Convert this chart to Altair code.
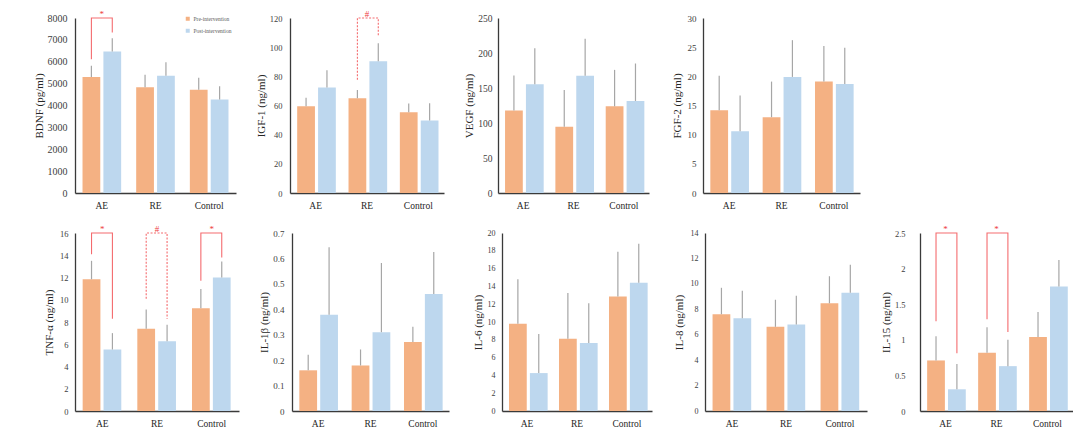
import altair as alt
import pandas as pd

GROUPS = ["AE", "RE", "Control"]
SERIES = ["Pre-intervention", "Post-intervention"]

BDNF_PRE = [5300, 4840, 4720]
BDNF_PRE_SD = [520, 570, 550]
BDNF_POST = [6470, 5360, 4280]
BDNF_POST_SD = [600, 615, 595]

IGF1_PRE = [59.5, 65.0, 55.4]
IGF1_PRE_SD = [5.8, 5.7, 6.0]
IGF1_POST = [72.3, 90.3, 49.7]
IGF1_POST_SD = [11.9, 12.4, 11.9]

VEGF_PRE = [117.7, 94.7, 123.8]
VEGF_PRE_SD = [50.2, 52.6, 52.1]
VEGF_POST = [155.3, 167.4, 131.5]
VEGF_POST_SD = [51.5, 53.0, 53.5]

FGF2_PRE = [14.2, 13.0, 19.1]
FGF2_PRE_SD = [5.9, 6.1, 6.1]
FGF2_POST = [10.6, 19.9, 18.7]
FGF2_POST_SD = [6.1, 6.3, 6.2]

TNF_PRE = [11.84, 7.39, 9.24]
TNF_PRE_SD = [1.66, 1.73, 1.73]
TNF_POST = [5.53, 6.28, 11.99]
TNF_POST_SD = [1.47, 1.47, 1.44]

IL1B_PRE = [0.160, 0.179, 0.271]
IL1B_PRE_SD = [0.061, 0.063, 0.060]
IL1B_POST = [0.379, 0.310, 0.460]
IL1B_POST_SD = [0.265, 0.272, 0.165]

IL6_PRE = [9.79, 8.11, 12.86]
IL6_PRE_SD = [5.0, 5.16, 5.04]
IL6_POST = [4.26, 7.63, 14.4]
IL6_POST_SD = [4.38, 4.47, 4.4]

IL8_PRE = [7.61, 6.62, 8.47]
IL8_PRE_SD = [2.08, 2.13, 2.13]
IL8_POST = [7.30, 6.81, 9.3]
IL8_POST_SD = [2.15, 2.25, 2.2]

IL15_PRE = [0.71, 0.818, 1.04]
IL15_PRE_SD = [0.34, 0.36, 0.35]
IL15_POST = [0.305, 0.63, 1.75]
IL15_POST_SD = [0.355, 0.37, 0.37]

# significance brackets: group, marker, line style, value where pre leg starts, value where post leg starts
BDNF_SIG = [("AE", "*", "solid", 6115, 7340)]
IGF1_SIG = [("RE", "#", "dotted", 77.6, 108)]
TNF_SIG = [("AE", "*", "solid", 14.1, 8.3),
           ("RE", "#", "dotted", 10.1, 8.3),
           ("Control", "*", "solid", 11.7, 13.8)]
IL15_SIG = [("AE", "*", "solid", 1.26, 0.81),
            ("RE", "*", "solid", 1.29, 1.11)]

FONT = "Liberation Serif"
PRE_COLOR = "#F4B183"
POST_COLOR = "#BDD7EE"
SIG_COLOR = "#F46B6E"
TEXT_RED = "#EE3B3B"


def panel(title, pre, pre_sd, post, post_sd, ymax, ystep, width, height,
          title_x, label_pad=7, label_size=9, sig=()):
    rows = []
    for s, vals, sds in ((SERIES[0], pre, pre_sd), (SERIES[1], post, post_sd)):
        for g, v, sd in zip(GROUPS, vals, sds):
            rows.append({"group": g, "series": s, "value": v, "upper": v + sd})
    df = pd.DataFrame(rows)
    n = int(round(ymax / ystep))
    ticks = [round(i * ystep, 6) for i in range(n + 1)]
    yscale = alt.Scale(domain=[0, ymax], nice=False, zero=True)
    yaxis = alt.Axis(title=title, values=ticks, format="~r", grid=False, ticks=False,
                     domainColor="#3a3a3a", domainWidth=1.3,
                     labelFont=FONT, labelFontSize=label_size, labelColor="#404040",
                     labelPadding=label_pad,
                     titleFont=FONT, titleFontSize=11, titleFontWeight="normal",
                     titleColor="#262626", titleAngle=270, titleX=title_x,
                     titleY=height / 2, titleAlign="center", titleBaseline="middle")
    xaxis = alt.Axis(title=None, labelAngle=0, ticks=False, domainColor="#3a3a3a",
                     domainWidth=1.3, labelFont=FONT, labelFontSize=9.5,
                     labelColor="#262626", labelPadding=7)
    X = alt.X("group:N", sort=GROUPS,
              scale=alt.Scale(domain=GROUPS, paddingInner=0.28, paddingOuter=0.14),
              axis=xaxis)
    XO = alt.XOffset("series:N", sort=SERIES,
                     scale=alt.Scale(domain=SERIES, paddingInner=0.15, paddingOuter=0))
    legend = alt.Legend(orient="none", legendX=110, legendY=-2, title=None,
                        direction="vertical", symbolType="square", symbolSize=16,
                        symbolStrokeWidth=0, labelFont=FONT, labelFontSize=5.5,
                        labelColor="#595959", rowPadding=5, labelOffset=3, padding=0)
    bars = alt.Chart(df).mark_bar().encode(
        x=X, xOffset=XO,
        y=alt.Y("value:Q", scale=yscale, axis=yaxis),
        color=alt.Color("series:N", sort=SERIES,
                        scale=alt.Scale(domain=SERIES, range=[PRE_COLOR, POST_COLOR]),
                        legend=legend),
    )
    err = alt.Chart(df).mark_rule(color="#A6A6A6", strokeWidth=1.2).encode(
        x=X, xOffset=XO,
        y=alt.Y("value:Q", scale=yscale, axis=yaxis),
        y2="upper:Q",
    )
    layers = [bars, err]
    if sig:
        lrows, trows = [], []
        for i, (g, mark, style, left, right) in enumerate(sig):
            pts = [(SERIES[0], left), (SERIES[0], ymax), (SERIES[1], ymax), (SERIES[1], right)]
            for k, (s, yv) in enumerate(pts):
                lrows.append({"id": i, "group": g, "series": s, "y": yv, "order": k, "style": style})
            trows.append({"group": g, "y": ymax, "mark": mark})
        ldf = pd.DataFrame(lrows)
        tdf = pd.DataFrame(trows)
        line = alt.Chart(ldf).mark_line(color=SIG_COLOR, strokeWidth=1.1).encode(
            x=X, xOffset=XO,
            y=alt.Y("y:Q", scale=yscale, axis=yaxis),
            detail="id:N",
            order="order:Q",
            strokeDash=alt.StrokeDash("style:N",
                                      scale=alt.Scale(domain=["solid", "dotted"],
                                                      range=[[1, 0], [2, 1.5]]),
                                      legend=None),
        )
        txt = alt.Chart(tdf).mark_text(color=TEXT_RED, fontSize=9, font=FONT,
                                       baseline="alphabetic", dy=-1).encode(
            x=X,
            y=alt.Y("y:Q", scale=yscale, axis=yaxis),
            text="mark:N",
        )
        layers += [line, txt]
    return alt.layer(*layers).properties(width=width, height=height)


TOP_H = 175
BOT_H = 178
ROW_GAP = 40

top = alt.hconcat(
    panel("BDNF (pg/ml)", BDNF_PRE, BDNF_PRE_SD, BDNF_POST, BDNF_POST_SD, 8000, 1000,
          161, TOP_H, -36, label_pad=8, label_size=10, sig=BDNF_SIG),
    panel("IGF-1 (ng/ml)", IGF1_PRE, IGF1_PRE_SD, IGF1_POST, IGF1_POST_SD, 120, 20,
          154, TOP_H, -29, label_pad=8, label_size=8.5, sig=IGF1_SIG),
    panel("VEGF (ng/ml)", VEGF_PRE, VEGF_PRE_SD, VEGF_POST, VEGF_POST_SD, 250, 50,
          151, TOP_H, -29, label_pad=6, label_size=9.5),
    panel("FGF-2 (ng/ml)", FGF2_PRE, FGF2_PRE_SD, FGF2_POST, FGF2_POST_SD, 30, 5,
          157, TOP_H, -26, label_pad=7, label_size=9),
    spacing=54, bounds="flush",
)

bottom = alt.hconcat(
    panel("TNF-α (ng/ml)", TNF_PRE, TNF_PRE_SD, TNF_POST, TNF_POST_SD, 16, 2,
          164, BOT_H, -26, label_pad=7, label_size=8.5, sig=TNF_SIG),
    panel("IL-1β (ng/ml)", IL1B_PRE, IL1B_PRE_SD, IL1B_POST, IL1B_POST_SD, 0.7, 0.1,
          157, BOT_H, -28, label_pad=8, label_size=9),
    panel("IL-6 (ng/ml)", IL6_PRE, IL6_PRE_SD, IL6_POST, IL6_POST_SD, 20, 2,
          150, BOT_H, -24, label_pad=7, label_size=8),
    panel("IL-8 (ng/ml)", IL8_PRE, IL8_PRE_SD, IL8_POST, IL8_POST_SD, 14, 2,
          162, BOT_H, -26, label_pad=7, label_size=8),
    panel("IL-15 (ng/ml)", IL15_PRE, IL15_PRE_SD, IL15_POST, IL15_POST_SD, 2.5, 0.5,
          153, BOT_H, -34, label_pad=15, label_size=8.5, sig=IL15_SIG),
    spacing=53, bounds="flush",
)

# nested rows count as zero height in a flush layout, so the spacing carries the row height
chart = alt.vconcat(top, bottom, spacing=TOP_H + ROW_GAP, bounds="flush").properties(
    padding={"left": 33, "top": 10, "right": 0, "bottom": 2},
    background="white",
).configure_view(stroke=None)

chart.save("out.html", embed_options={"renderer": "svg", "actions": False})
